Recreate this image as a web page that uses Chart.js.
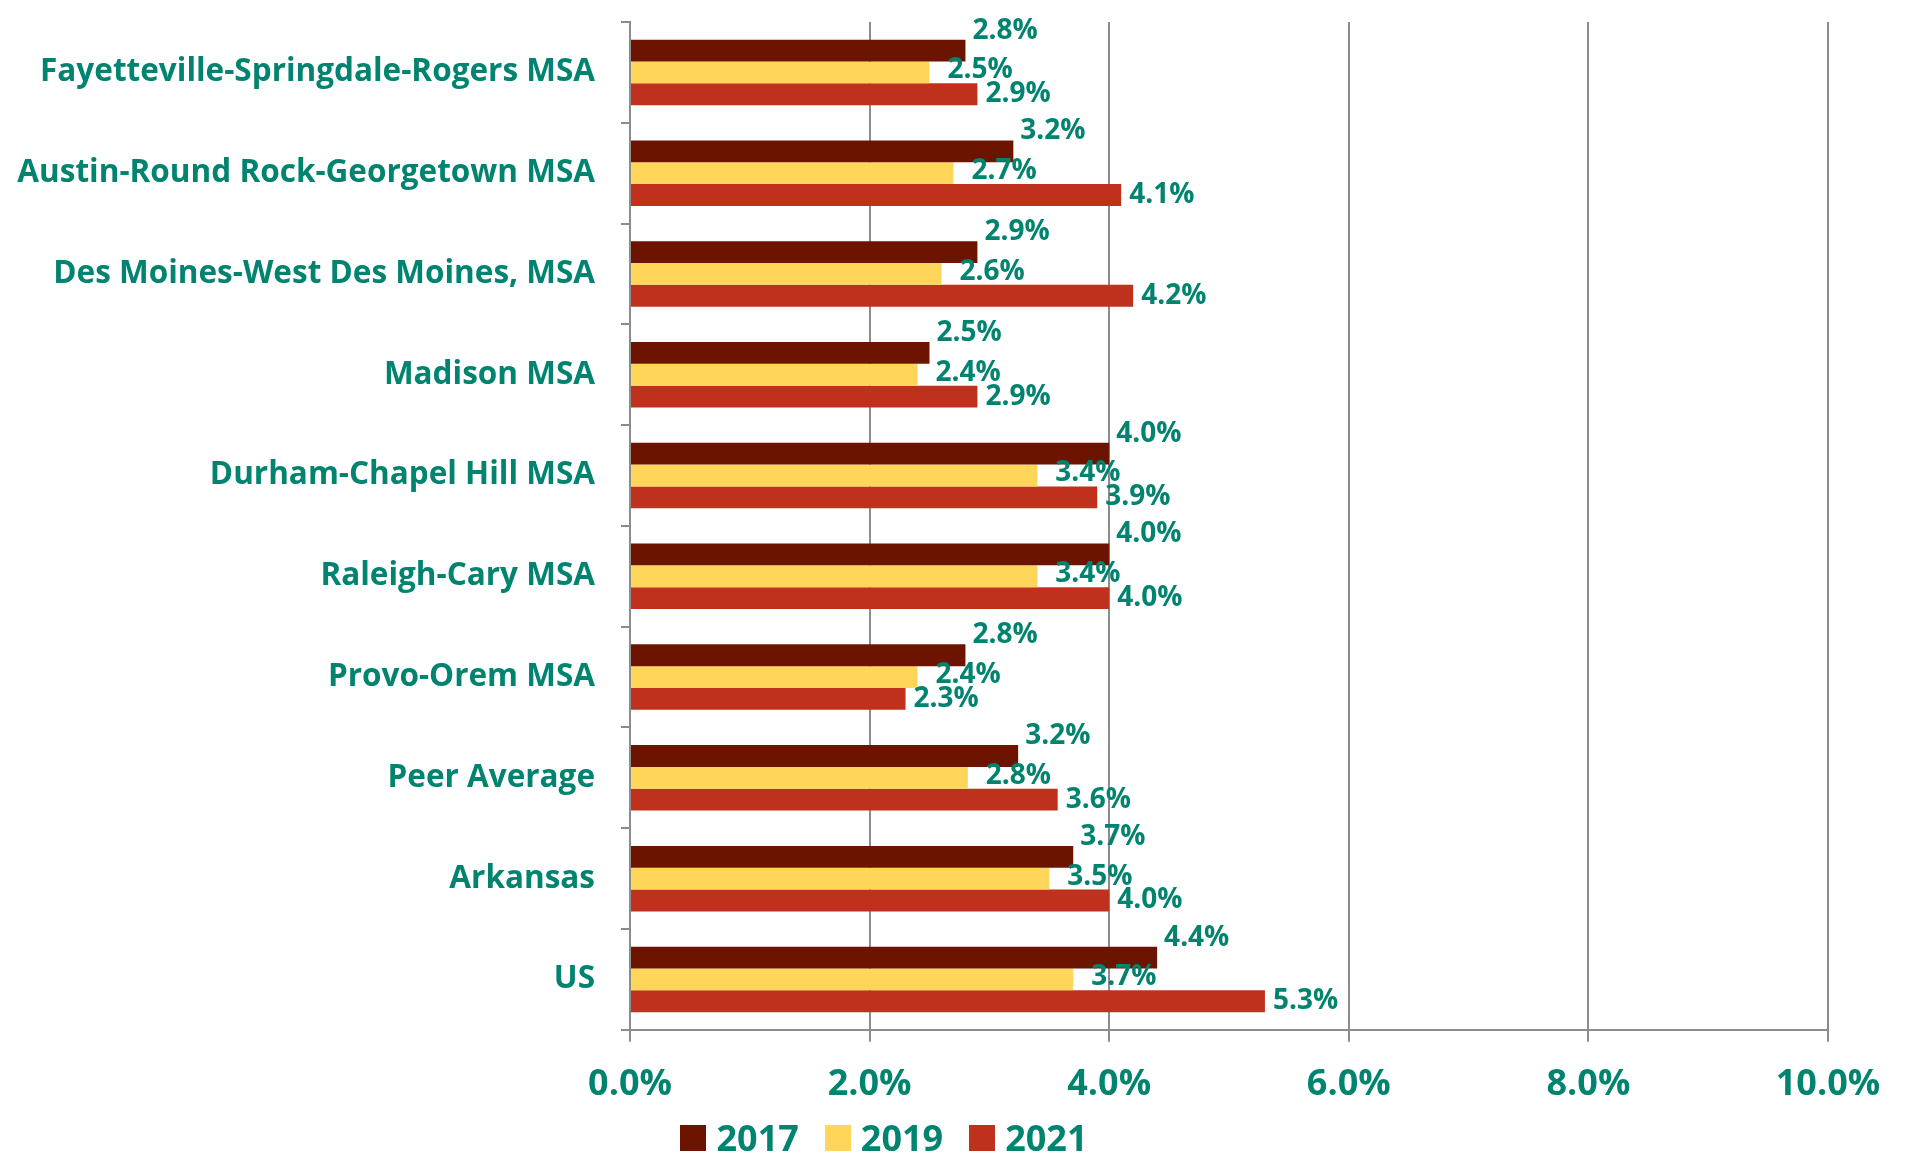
<!DOCTYPE html>
<html>
<head>
<meta charset="utf-8">
<script src="https://cdn.jsdelivr.net/npm/chart.js"></script>
<style>
  body { margin: 0; background: #fff; }
  #wrap { position: relative; width: 1913px; height: 1158px; }
  #legend {
    position: absolute; left: 0; width: 1768px; top: 1113px;
    display: flex; justify-content: center; align-items: center;
    font-family: "Open Sans", sans-serif; font-weight: bold; font-size: 36px; color: #00846f;
  }
  #legend .item { display: flex; align-items: center; margin: 0 13px; }
  #legend .box { width: 26px; height: 26px; margin-right: 10px; }
</style>
</head>
<body>
<div id="wrap">
  <canvas id="chart" width="1913" height="1158"></canvas>
  <div id="legend"></div>
</div>
<script>
const categories = [
  "Fayetteville-Springdale-Rogers MSA",
  "Austin-Round Rock-Georgetown MSA",
  "Des Moines-West Des Moines, MSA",
  "Madison MSA",
  "Durham-Chapel Hill MSA",
  "Raleigh-Cary MSA",
  "Provo-Orem MSA",
  "Peer Average",
  "Arkansas",
  "US"
];
const years = ["2017", "2019", "2021"];
const values2017 = [2.8, 3.2, 2.9, 2.5, 4.0, 4.0, 2.8, 3.24, 3.7, 4.4];
const values2019 = [2.5, 2.7, 2.6, 2.4, 3.4, 3.4, 2.4, 2.82, 3.5, 3.7];
const values2021 = [2.9, 4.1, 4.2, 2.9, 3.9, 4.0, 2.3, 3.57, 4.0, 5.3];
const xTicks = [0, 2, 4, 6, 8, 10];

const teal = "#00846f";
const colors = ["#6d1400", "#ffd55a", "#c0311d"];
const fontFamily = "'Open Sans', sans-serif";

// value labels drawn next to each bar end
const labelOffsets = [{ x: 7, y: -20 }, { x: 18, y: -2 }, { x: 8, y: 0 }];
const barLabels = {
  id: "barLabels",
  afterDatasetsDraw(chart) {
    const ctx = chart.ctx;
    ctx.save();
    ctx.font = "bold 28px " + fontFamily;
    ctx.fillStyle = teal;
    ctx.textAlign = "left";
    ctx.textBaseline = "middle";
    chart.data.datasets.forEach((ds, i) => {
      chart.getDatasetMeta(i).data.forEach((bar, j) => {
        const off = labelOffsets[i];
        ctx.fillText(ds.data[j].toFixed(1) + "%", bar.x + off.x, bar.y + off.y);
      });
    });
    ctx.restore();
  }
};

const chart = new Chart(document.getElementById("chart"), {
  type: "bar",
  data: {
    labels: categories,
    datasets: [
      { label: years[0], data: values2017, backgroundColor: colors[0] },
      { label: years[1], data: values2019, backgroundColor: colors[1] },
      { label: years[2], data: values2021, backgroundColor: colors[2] }
    ]
  },
  options: {
    indexAxis: "y",
    responsive: false,
    animation: false,
    devicePixelRatio: 1,
    layout: { padding: { top: 22, right: 85, bottom: 31, left: 0 } },
    datasets: { bar: { categoryPercentage: 0.65, barPercentage: 1.0 } },
    plugins: { legend: { display: false }, tooltip: { enabled: false } },
    scales: {
      x: {
        min: 0,
        max: 10,
        afterBuildTicks: s => { s.ticks = xTicks.map(v => ({ value: v })); },
        ticks: {
          callback: v => v.toFixed(1) + "%",
          color: teal,
          font: { family: fontFamily, size: 36, weight: "bold" },
          padding: 21,
          maxRotation: 0
        },
        grid: { color: "#8c8c8c", lineWidth: 2, tickLength: 12 },
        border: { color: "#8c8c8c", width: 2 }
      },
      y: {
        afterFit: s => { s.width = 630; s.paddingTop = 0; s.paddingBottom = 0; },
        ticks: {
          color: teal,
          font: { family: fontFamily, size: 31.5, weight: "bold" },
          padding: 26
        },
        grid: { drawOnChartArea: false, color: "#8c8c8c", lineWidth: 2, tickLength: 9 },
        border: { color: "#8c8c8c", width: 2 }
      }
    }
  },
  plugins: [barLabels]
});

// legend
const legend = document.getElementById("legend");
chart.data.datasets.forEach(ds => {
  const item = document.createElement("div");
  item.className = "item";
  item.innerHTML = '<span class="box" style="background:' + ds.backgroundColor + '"></span>' + ds.label;
  legend.appendChild(item);
});
</script>
</body>
</html>
